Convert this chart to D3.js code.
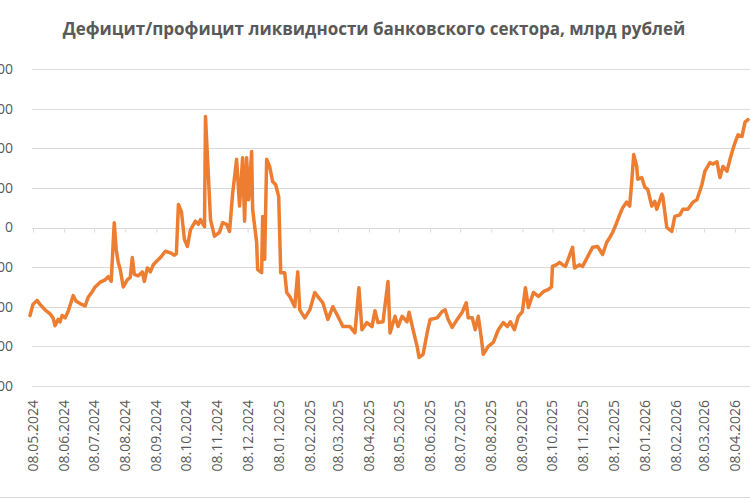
<!DOCTYPE html>
<html>
<head>
<meta charset="utf-8">
<script src="https://cdn.jsdelivr.net/npm/d3@7"></script>
<style>
  html, body { margin: 0; padding: 0; background: #fff; }
  svg { display: block; font-family: 'Open Sans', sans-serif; }
  .grid line { stroke: #d9d9d9; stroke-width: 1; }
  .axis-label { fill: #595959; font-size: 14px; }
</style>
</head>
<body>
<div id="chart"></div>
<script>
'use strict';

const title = 'Дефицит/профицит ликвидности банковского сектора, млрд рублей';

const tickLabels = [
  '08.05.2024', '08.06.2024', '08.07.2024', '08.08.2024', '08.09.2024', '08.10.2024',
  '08.11.2024', '08.12.2024', '08.01.2025', '08.02.2025', '08.03.2025', '08.04.2025',
  '08.05.2025', '08.06.2025', '08.07.2025', '08.08.2025', '08.09.2025', '08.10.2025',
  '08.11.2025', '08.12.2025', '08.01.2026', '08.02.2026', '08.03.2026', '08.04.2026'
];

const yTicks = [-2000, -1500, -1000, -500, 0, 500, 1000, 1500, 2000];

const dates = [
  '2024-05-05', '2024-05-08', '2024-05-12', '2024-05-15', '2024-05-20', '2024-05-25', '2024-05-28', '2024-05-30',
  '2024-06-02', '2024-06-04', '2024-06-06', '2024-06-09', '2024-06-12', '2024-06-17', '2024-06-20', '2024-06-24',
  '2024-06-29', '2024-07-02', '2024-07-06', '2024-07-09', '2024-07-14', '2024-07-19', '2024-07-22', '2024-07-25',
  '2024-07-28', '2024-07-30', '2024-08-01', '2024-08-03', '2024-08-06', '2024-08-10', '2024-08-13', '2024-08-15',
  '2024-08-17', '2024-08-21', '2024-08-25', '2024-08-27', '2024-08-30', '2024-09-02', '2024-09-05', '2024-09-08',
  '2024-09-12', '2024-09-17', '2024-09-22', '2024-09-26', '2024-09-28', '2024-09-30', '2024-10-03', '2024-10-06',
  '2024-10-09', '2024-10-12', '2024-10-17', '2024-10-20', '2024-10-22', '2024-10-26', '2024-10-27', '2024-11-01',
  '2024-11-05', '2024-11-10', '2024-11-13', '2024-11-17', '2024-11-20', '2024-11-23', '2024-11-27', '2024-11-30',
  '2024-12-03', '2024-12-05', '2024-12-07', '2024-12-09', '2024-12-12', '2024-12-13', '2024-12-17', '2024-12-18',
  '2024-12-22', '2024-12-23', '2024-12-25', '2024-12-27', '2024-12-30', '2025-01-02', '2025-01-05', '2025-01-08',
  '2025-01-10', '2025-01-14', '2025-01-16', '2025-01-19', '2025-01-24', '2025-01-27', '2025-01-29', '2025-02-03',
  '2025-02-08', '2025-02-13', '2025-02-16', '2025-02-21', '2025-02-26', '2025-03-03', '2025-03-08', '2025-03-13',
  '2025-03-20', '2025-03-25', '2025-03-29', '2025-04-01', '2025-04-06', '2025-04-11', '2025-04-14', '2025-04-17',
  '2025-04-22', '2025-04-27', '2025-04-29', '2025-05-04', '2025-05-07', '2025-05-11', '2025-05-16', '2025-05-18',
  '2025-05-22', '2025-05-26', '2025-05-28', '2025-06-01', '2025-06-05', '2025-06-08', '2025-06-15', '2025-06-20',
  '2025-06-23', '2025-06-26', '2025-06-30', '2025-07-05', '2025-07-10', '2025-07-14', '2025-07-16', '2025-07-20',
  '2025-07-23', '2025-07-26', '2025-07-29', '2025-07-31', '2025-08-05', '2025-08-10', '2025-08-15', '2025-08-20',
  '2025-08-24', '2025-08-27', '2025-08-31', '2025-09-04', '2025-09-08', '2025-09-11', '2025-09-14', '2025-09-19',
  '2025-09-24', '2025-09-29', '2025-10-04', '2025-10-07', '2025-10-08', '2025-10-12', '2025-10-15', '2025-10-18',
  '2025-10-21', '2025-10-28', '2025-10-30', '2025-11-04', '2025-11-07', '2025-11-12', '2025-11-17', '2025-11-22',
  '2025-11-27', '2025-12-01', '2025-12-04', '2025-12-07', '2025-12-11', '2025-12-14', '2025-12-17', '2025-12-21',
  '2025-12-24', '2025-12-26', '2025-12-28', '2025-12-31', '2026-01-01', '2026-01-05', '2026-01-08', '2026-01-11',
  '2026-01-15', '2026-01-18', '2026-01-20', '2026-01-25', '2026-01-26', '2026-01-30', '2026-02-04', '2026-02-07',
  '2026-02-12', '2026-02-15', '2026-02-20', '2026-02-25', '2026-03-01', '2026-03-06', '2026-03-09', '2026-03-14',
  '2026-03-17', '2026-03-21', '2026-03-24', '2026-03-27', '2026-03-31', '2026-04-03', '2026-04-06', '2026-04-08',
  '2026-04-11', '2026-04-15', '2026-04-18', '2026-04-21'
];

// млрд рублей
const values = [
  -1110, -970, -920, -970, -1040, -1090, -1140, -1240,
  -1160, -1190, -1110, -1140, -1060, -860, -930, -960,
  -990, -880, -810, -750, -690, -660, -620, -680,
  60, -280, -440, -530, -750, -660, -630, -380,
  -590, -610, -560, -680, -510, -560, -470, -430,
  -380, -300, -320, -350, -330, 290, 200, -150,
  -240, -30, 80, 40, 100, 10, 1400, 100,
  -110, -60, 60, 40, -50, 420, 860, 270,
  880, 80, 880, 350, 960, 230, -190, -530,
  -570, 140, -400, 860, 770, 580, 540, 390,
  -570, -570, -820, -870, -1000, -560, -1040, -1140,
  -1040, -820, -870, -950, -1160, -1000, -1120, -1250,
  -1250, -1330, -760, -1290, -1200, -1250, -1050, -1200,
  -1190, -680, -1330, -1120, -1250, -1120, -1190, -1070,
  -1290, -1500, -1640, -1600, -1330, -1160, -1140, -1060,
  -1040, -1160, -1260, -1160, -1070, -950, -1140, -1140,
  -1290, -1120, -1390, -1600, -1500, -1450, -1290, -1200,
  -1250, -1190, -1290, -1120, -1060, -760, -1010, -820,
  -870, -810, -780, -750, -490, -470, -440, -470,
  -490, -250, -510, -470, -490, -370, -250, -240,
  -340, -190, -130, -60, 60, 160, 250, 320,
  270, 570, 920, 770, 610, 630, 510, 480,
  270, 330, 230, 420, 390, 0, -50, 140,
  160, 230, 230, 320, 350, 540, 710, 820,
  800, 830, 630, 770, 710, 860, 990, 1070,
  1170, 1150, 1330, 1360
];

const width = 750;
const height = 500;
const plot = { left: 32, right: 750, top: 69, bottom: 386 };

const parseIso = d3.timeParse('%Y-%m-%d');
const parseTick = d3.timeParse('%d.%m.%Y');

let data = dates.map((d, i) => ({ date: parseIso(d), value: values[i] }));
let tickDates = tickLabels.map(parseTick);

let svg = d3.select('#chart').append('svg')
  .attr('width', width).attr('height', height);

svg.append('rect').attr('width', width).attr('height', height).attr('fill', '#fff');

svg.append('text')
  .attr('x', 374).attr('y', 35)
  .attr('text-anchor', 'middle')
  .style('font-size', '17px').style('font-weight', 'bold')
  .attr('fill', '#595959')
  .text(title);

let x = d3.scaleTime()
  .domain([tickDates[0], tickDates[tickDates.length - 1]])
  .range([33, 735]);

let y = d3.scaleLinear()
  .domain([-2000, 2000])
  .range([plot.bottom, plot.top]);

// horizontal gridlines (zero is drawn as the axis)
svg.append('g').classed('grid', true)
  .selectAll('line').data(yTicks.filter(v => v !== 0))
  .enter().append('line')
  .attr('x1', plot.left).attr('x2', plot.right)
  .attr('y1', d => Math.round(y(d)) + 0.5).attr('y2', d => Math.round(y(d)) + 0.5);

// y labels, the left part falls off the picture as in the original
svg.append('g')
  .selectAll('text').data(yTicks)
  .enter().append('text')
  .classed('axis-label', true)
  .attr('x', 13).attr('y', d => y(d))
  .attr('dy', '0.35em')
  .attr('text-anchor', 'end')
  .text(d => d);

// category axis sits on zero, ticks pointing down, labels at the bottom
let xAxis = d3.axisBottom(x).tickValues(tickDates).tickSize(4).tickFormat('');
let axisG = svg.append('g')
  .attr('transform', `translate(0,${Math.round(y(0)) + 0.5})`)
  .call(xAxis);
axisG.select('.domain').attr('d', `M${plot.left},0H${plot.right}`).attr('stroke', '#d9d9d9');
axisG.selectAll('.tick line').attr('stroke', '#d9d9d9');

svg.append('g')
  .selectAll('text').data(tickDates)
  .enter().append('text')
  .classed('axis-label', true)
  .attr('transform', d => `translate(${x(d)},400) rotate(-90)`)
  .attr('dy', '0.35em')
  .attr('text-anchor', 'end')
  .text((d, i) => tickLabels[i]);

// outer frame bottom edge
svg.append('line')
  .attr('x1', 0).attr('x2', width).attr('y1', 497.5).attr('y2', 497.5)
  .attr('stroke', '#d9d9d9');

let line = d3.line()
  .x(d => x(d.date))
  .y(d => y(d.value));

svg.append('path').datum(data)
  .attr('d', line)
  .attr('fill', 'none')
  .attr('stroke', '#ed7d31')
  .attr('stroke-width', 3.5)
  .attr('stroke-linejoin', 'round')
  .attr('stroke-linecap', 'round');
</script>
</body>
</html>
